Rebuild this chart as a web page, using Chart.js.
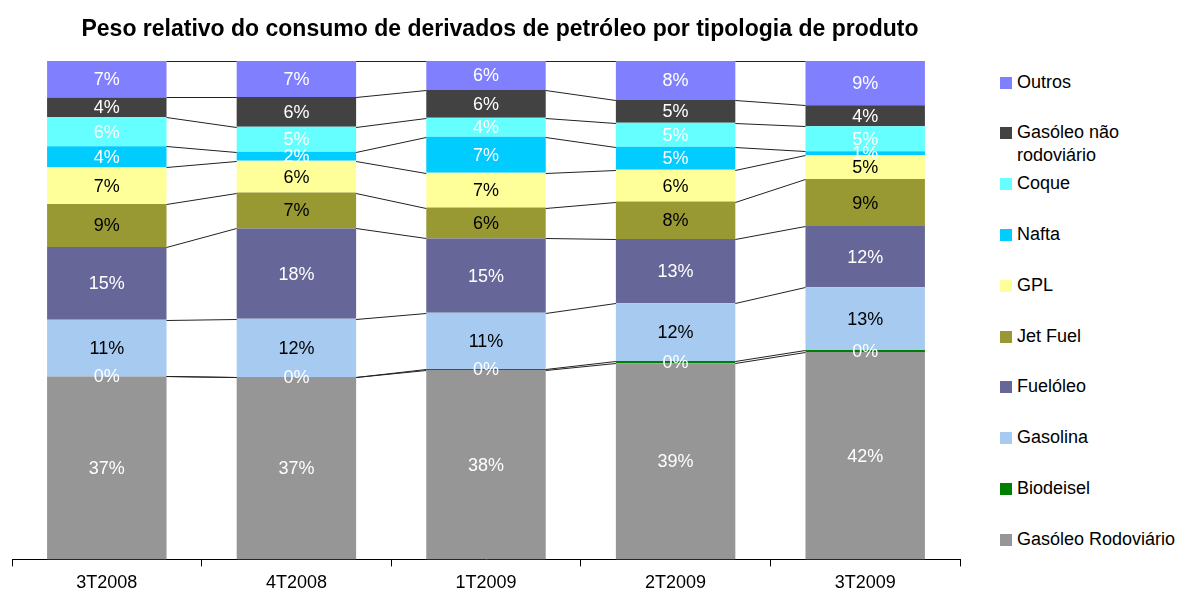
<!DOCTYPE html>
<html>
<head>
<meta charset="utf-8">
<script src="https://cdn.jsdelivr.net/npm/chart.js@4.4.0/dist/chart.umd.min.js"></script>
<style>
  body { margin: 0; background: #fff; font-family: 'Liberation Sans', Arial, sans-serif; }
  #wrap { position: relative; width: 1178px; height: 593px; }
  #box { position: absolute; left: 0; top: 0; width: 1000px; height: 593px; }
  #title { position: absolute; left: 0; width: 1000px; top: 14px; text-align: center; font-size: 23px; font-weight: bold; line-height: 28px; color: #000; white-space: nowrap; }
  #legend { position: absolute; left: 1000px; top: 0; }
  .item { position: absolute; left: 0; display: flex; font-size: 18px; line-height: 23px; color: #000; white-space: nowrap; }
  .swatch { width: 12px; height: 12px; margin-top: 6px; margin-right: 5px; flex: none; }
</style>
</head>
<body>
<div id="wrap">
  <div id="box"><canvas id="chart"></canvas></div>
  <div id="title"></div>
  <div id="legend"></div>
</div>
<script>
// Peso relativo do consumo de derivados de petróleo (%), per quarter
const chartTitle = 'Peso relativo do consumo de derivados de petróleo por tipologia de produto';
const quarters = ['3T2008', '4T2008', '1T2009', '2T2009', '3T2009'];

// bottom to top of each stack
const seriesNames = ['Gasóleo Rodoviário', 'Biodeisel', 'Gasolina', 'Fuelóleo', 'Jet Fuel', 'GPL', 'Nafta', 'Coque', 'Gasóleo não rodoviário', 'Outros'];
const gasoleoRodoviario = [36.7, 36.6, 38.0, 39.35, 41.6];
const biodiesel         = [0.0, 0.0, 0.2, 0.45, 0.4];
const gasolina          = [11.4, 11.7, 11.3, 11.6, 12.6];
const fueloleo          = [14.6, 18.1, 14.9, 12.9, 12.3];
const jetFuel           = [8.6, 7.2, 6.2, 7.5, 9.4];
const gpl               = [7.4, 6.4, 7.0, 6.4, 4.8];
const nafta             = [4.2, 1.8, 7.2, 4.6, 0.8];
const coque             = [5.8, 5.0, 3.8, 4.8, 5.0];
const gasoleoNaoRod     = [4.0, 6.0, 5.6, 4.6, 4.2];
const outros            = [7.3, 7.2, 5.8, 7.8, 8.9];

const seriesValues = [gasoleoRodoviario, biodiesel, gasolina, fueloleo, jetFuel, gpl, nafta, coque, gasoleoNaoRod, outros];
const colors = ['#969696', '#008000', '#A6CAF0', '#666699', '#999933', '#FFFF99', '#00CCFF', '#66FFFF', '#424242', '#8080FF'];
const labelColors = ['#fff', '#fff', '#000', '#fff', '#000', '#000', '#fff', '#fff', '#fff', '#fff'];

const FONT = "'Liberation Sans', Arial, sans-serif";

// Excel-style series lines joining the top of each segment across bars
const seriesLines = {
    id: 'seriesLines',
    afterDatasetsDraw(chart) {
        const ctx = chart.ctx;
        ctx.save();
        ctx.strokeStyle = '#222';
        ctx.lineWidth = 1;
        chart.data.datasets.forEach((ds, di) => {
            const bars = chart.getDatasetMeta(di).data;
            for (let i = 0; i < bars.length - 1; i++) {
                const a = bars[i], b = bars[i + 1];
                ctx.beginPath();
                ctx.moveTo(a.x + a.width / 2, Math.round(a.y) + 0.5);
                ctx.lineTo(b.x - b.width / 2, Math.round(b.y) + 0.5);
                ctx.stroke();
            }
        });
        ctx.restore();
    }
};

const segmentLabels = {
    id: 'segmentLabels',
    afterDraw(chart) {
        const ctx = chart.ctx;
        ctx.save();
        ctx.font = '18px ' + FONT;
        ctx.textAlign = 'center';
        ctx.textBaseline = 'middle';
        chart.data.datasets.forEach((ds, di) => {
            chart.getDatasetMeta(di).data.forEach((bar, i) => {
                ctx.fillStyle = labelColors[di];
                ctx.fillText(Math.round(ds.data[i]) + '%', bar.x, (bar.y + bar.base) / 2 + 1);
            });
        });
        ctx.restore();
    }
};

document.getElementById('title').textContent = chartTitle;

new Chart(document.getElementById('chart'), {
    type: 'bar',
    data: {
        labels: quarters,
        datasets: seriesNames.map((name, i) => ({
            label: name,
            data: seriesValues[i],
            backgroundColor: colors[i],
            borderWidth: 0,
            categoryPercentage: 1.0,
            barPercentage: 0.63
        }))
    },
    options: {
        responsive: true,
        maintainAspectRatio: false,
        animation: false,
        layout: { padding: { left: 12, right: 40, top: 61, bottom: -7 } },
        scales: {
            x: {
                stacked: true,
                border: { color: '#000', width: 1 },
                grid: { drawOnChartArea: false, drawTicks: true, tickLength: 7, color: '#000' },
                ticks: { color: '#000', font: { family: FONT, size: 18 }, padding: 6 }
            },
            y: { stacked: true, display: false, min: 0, max: 100 }
        },
        plugins: {
            legend: { display: false },
            tooltip: { enabled: false },
            title: { display: false }
        }
    },
    plugins: [seriesLines, segmentLabels]
});

// legend, top to bottom
const legend = document.getElementById('legend');
const legendText = { 'Gasóleo não rodoviário': 'Gasóleo não<br>rodoviário' };
for (let k = seriesNames.length - 1, row = 0; k >= 0; k--, row++) {
    const item = document.createElement('div');
    item.className = 'item';
    item.style.top = (70.5 + row * 50.8) + 'px';
    item.innerHTML = '<span class="swatch" style="background:' + colors[k] + '"></span><span>' +
        (legendText[seriesNames[k]] || seriesNames[k]) + '</span>';
    legend.appendChild(item);
}
</script>
</body>
</html>
